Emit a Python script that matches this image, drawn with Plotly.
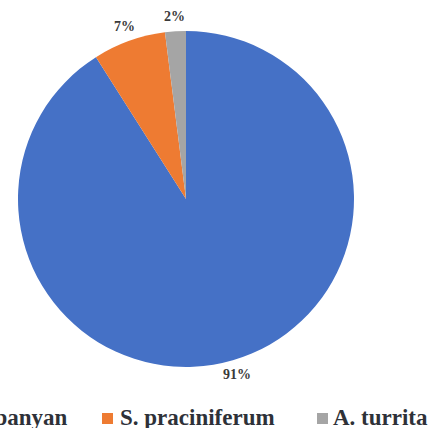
import numpy as np
import plotly.graph_objects as go

# Share of individuals per species
species = ["P. banyan", "S. praciniferum", "A. turrita"]
shares = [91, 7, 2]
colors = ["#4571C6", "#EE7B32", "#A5A5A5"]

W, H = 438, 428
serif = "Liberation Serif, Times New Roman, serif"

# Pie placement in pixels (centre and radius), converted to a paper-domain
cx, cy, R = 186, 199, 168
dom_x = [(cx - R) / W, (cx + R) / W]
dom_y = [(H - cy - R) / H, (H - cy + R) / H]

fig = go.Figure(
    go.Pie(
        labels=species,
        values=shares,
        sort=False,
        direction="clockwise",
        rotation=0,
        marker=dict(colors=colors, line=dict(width=0)),
        textinfo="none",
        domain=dict(x=dom_x, y=dom_y),
        showlegend=False,
        hoverinfo="label+percent",
    )
)

# Percentage labels just outside each slice, at the slice's mid-angle
vals = np.array(shares, dtype=float)
frac = vals / vals.sum()
mid = 2 * np.pi * (np.cumsum(frac) - frac / 2)  # clockwise from 12 o'clock
label_r = R + 15
annotations = []
for f, a in zip(frac, mid):
    px = cx + label_r * np.sin(a)
    py = cy - label_r * np.cos(a)
    annotations.append(dict(
        text=f"<b>{f * 100:.0f}%</b>", xref="paper", yref="paper",
        x=px / W, y=(H - py) / H, xanchor="center", yanchor="middle",
        showarrow=False, font=dict(family=serif, size=14, color="#3a3a3a"),
    ))

# Legend row along the bottom edge: swatch + label per species
text_right_px = [70, None, None]   # first label is right-aligned
text_left_px = [None, 118, 331]
swatch_left_px = [-50, 102, 317]
swatch = 11
swatch_mid_px = 418.5
text_mid_px = 417

shapes = []
for i, (name, col) in enumerate(zip(species, colors)):
    x0 = swatch_left_px[i]
    shapes.append(dict(
        type="rect", xref="paper", yref="paper",
        x0=x0 / W, x1=(x0 + swatch) / W,
        y0=(H - swatch_mid_px - swatch / 2) / H,
        y1=(H - swatch_mid_px + swatch / 2) / H,
        fillcolor=col, line=dict(width=0),
    ))
    if text_right_px[i] is not None:
        ax, anchor = text_right_px[i], "right"
    else:
        ax, anchor = text_left_px[i], "left"
    annotations.append(dict(
        text=f"<b>{name}</b>", xref="paper", yref="paper",
        x=ax / W, y=(H - text_mid_px) / H, xanchor=anchor, yanchor="middle",
        showarrow=False, font=dict(family=serif, size=23, color="#2e3138"),
    ))

fig.update_layout(
    width=W, height=H,
    margin=dict(l=0, r=0, t=0, b=0),
    paper_bgcolor="white",
    plot_bgcolor="white",
    annotations=annotations,
    shapes=shapes,
)

fig.write_html("out.html")
